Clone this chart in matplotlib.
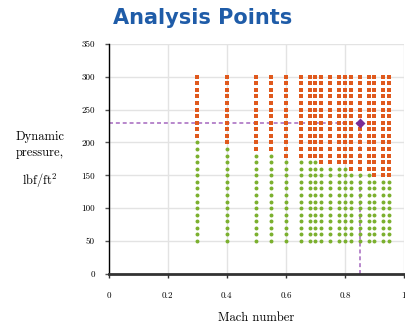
import matplotlib
matplotlib.use("Agg")
import matplotlib.pyplot as plt
import numpy as np

plt.rcParams['axes.formatter.use_mathtext'] = True
plt.rcParams['mathtext.fontset'] = 'cm'

# Mach numbers of the analysis columns
mach = [0.30, 0.40, 0.50, 0.55, 0.60, 0.65, 0.68, 0.70, 0.72, 0.75,
        0.78, 0.80, 0.82, 0.85, 0.88, 0.90, 0.93, 0.95]
# highest dynamic pressure (lbf/ft^2) of the green points in each column
green_top = [200, 190, 180, 180, 170, 170, 170, 170, 160, 160,
             160, 160, 150, 150, 150, 140, 140, 140]
q_low = 50
q_high = 300
q_step = 10

# highlighted design point
sel_mach = 0.85
sel_q = 230

x_ticks = [0, 0.2, 0.4, 0.6, 0.8, 1]
x_tick_labels = ["0", "0.2", "0.4", "0.6", "0.8", "1"]
y_ticks = [0, 50, 100, 150, 200, 250, 300, 350]

gx, gy, ox, oy = [], [], [], []
for m, gt in zip(mach, green_top):
    g = np.arange(q_low, gt + 1, q_step)
    o = np.arange(gt + q_step, q_high + 1, q_step)
    gx += [m] * len(g); gy += list(g)
    ox += [m] * len(o); oy += list(o)

fig = plt.figure(figsize=(4.06, 3.23), dpi=100)
ax = fig.add_axes([0.268, 0.152, 0.727, 0.712])

ax.set_xlim(0, 1)
ax.set_ylim(0, 350)
ax.grid(True, color="#e3e3e3", linewidth=1.0)
ax.set_axisbelow(True)

ax.plot([0, sel_mach], [sel_q, sel_q], linestyle=(0, (2.2, 1.6)), color="#b27ec8", lw=1.3, zorder=2)
ax.plot([sel_mach, sel_mach], [0, sel_q], linestyle=(0, (2.2, 1.6)), color="#b27ec8", lw=1.3, zorder=2)

ax.scatter(gx, gy, s=8, marker="o", color="#7bb02e", linewidths=0, zorder=3)
ax.scatter(ox, oy, s=12, marker="s", color="#e0591d", linewidths=0, zorder=3)
ax.scatter([sel_mach], [sel_q], s=26, marker="D", color="#7a2d96", linewidths=0, zorder=4)

for s in ["top", "right"]:
    ax.spines[s].set_visible(False)
ax.spines["left"].set_color("black")
ax.spines["left"].set_linewidth(1.0)
ax.spines["bottom"].set_color("#333333")
ax.spines["bottom"].set_linewidth(2.0)

ax.set_xticks(x_ticks)
ax.set_xticklabels(x_tick_labels)
ax.set_yticks(y_ticks)
ax.set_yticklabels([str(v) for v in y_ticks])
ax.tick_params(axis="x", length=3, width=1, pad=10, labelsize=6.5, color="#333333")
ax.tick_params(axis="y", length=3, width=1, pad=7, labelsize=6.5, color="#555555")
for lab in ax.get_xticklabels() + ax.get_yticklabels():
    lab.set_fontfamily("cmr10")

ax.set_xlabel("Mach number", fontfamily="cmr10", fontsize=9, labelpad=8)

fig.text(0.098, 0.575, "Dynamic", ha="center", va="center", fontfamily="cmr10", fontsize=9)
fig.text(0.098, 0.525, "pressure,", ha="center", va="center", fontfamily="cmr10", fontsize=9)
fig.text(0.098, 0.44, r"lbf/ft$^{2}$", ha="center", va="center", fontfamily="cmr10", fontsize=9)

fig.text(0.5, 0.945, "Analysis Points", ha="center", va="center", fontsize=15,
         fontweight="bold", color="#1f5ca8", fontfamily="DejaVu Sans")

fig.savefig("out.png", dpi=100)
